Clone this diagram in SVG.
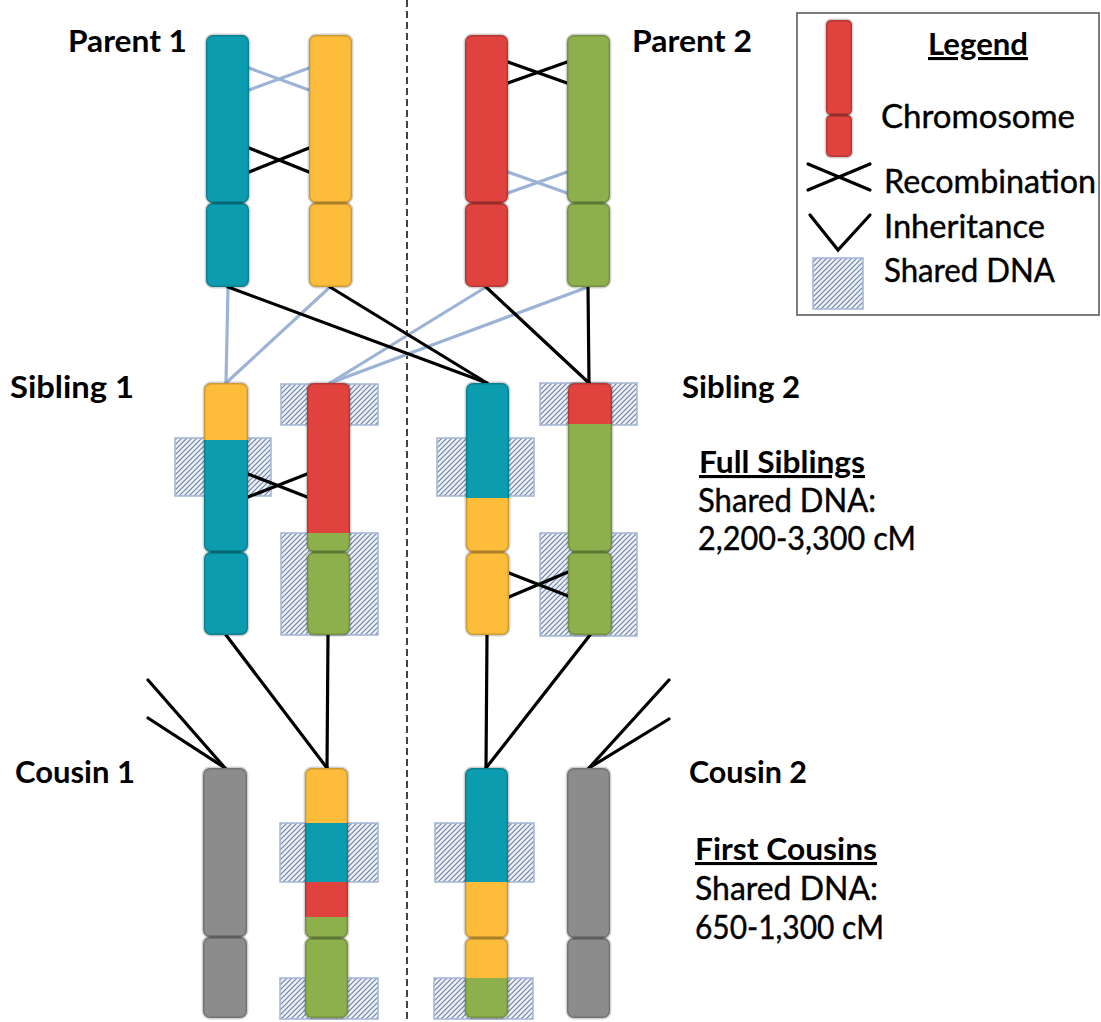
<svg xmlns="http://www.w3.org/2000/svg" width="1101" height="1022" viewBox="0 0 1101 1022">
<style>
.lbl{font-family:Lato,"Liberation Sans",sans-serif;font-weight:700;font-size:31px;fill:#000}
.txt{font-family:Lato,"Liberation Sans",sans-serif;font-weight:400;font-size:32px;fill:#000;stroke:#000;stroke-width:0.4}
.ul{text-decoration:underline}
.blk{stroke:#000;stroke-width:3.2;fill:none;stroke-linecap:round}
.blu{stroke:#9db3d6;stroke-width:3.2;fill:none;stroke-linecap:round}
.out{fill:none;stroke:#000;stroke-opacity:0.18;stroke-width:2.8}
.hatch{fill:url(#hatch);stroke:#a7b8d6;stroke-width:1.6}
.teal{fill:#0b9caf}.yel{fill:#fdbd3b}.red{fill:#e0423e}.grn{fill:#8db04d}.gry{fill:#8c8c8c}
</style>
<defs>
<pattern id="hatch" patternUnits="userSpaceOnUse" width="5" height="5">
<rect width="5" height="5" fill="#eef1f7"/>
<path d="M-1,6 L6,-1 M-1,1 L1,-1 M4,6 L6,4" stroke="#6f84a8" stroke-width="1.2"/>
</pattern>
<clipPath id="cP1a"><rect x="206" y="35" width="43" height="168" rx="7"/><rect x="206" y="203" width="43" height="84" rx="7"/></clipPath>
<clipPath id="cP1b"><rect x="309" y="35" width="43" height="168" rx="7"/><rect x="309" y="203" width="43" height="84" rx="7"/></clipPath>
<clipPath id="cP2a"><rect x="465" y="35" width="43" height="168" rx="7"/><rect x="465" y="203" width="43" height="84" rx="7"/></clipPath>
<clipPath id="cP2b"><rect x="567" y="35" width="43" height="168" rx="7"/><rect x="567" y="203" width="43" height="84" rx="7"/></clipPath>
<clipPath id="cS1a"><rect x="204" y="383" width="44" height="169" rx="7"/><rect x="204" y="552" width="44" height="83" rx="7"/></clipPath>
<clipPath id="cS1b"><rect x="307" y="383" width="43" height="169" rx="7"/><rect x="307" y="552" width="43" height="83" rx="7"/></clipPath>
<clipPath id="cS2a"><rect x="466" y="383" width="43" height="169" rx="7"/><rect x="466" y="552" width="43" height="83" rx="7"/></clipPath>
<clipPath id="cS2b"><rect x="568" y="383" width="44" height="169" rx="7"/><rect x="568" y="552" width="44" height="83" rx="7"/></clipPath>
<clipPath id="cC1b"><rect x="305" y="768" width="43" height="170" rx="7"/><rect x="305" y="938" width="43" height="80" rx="7"/></clipPath>
<clipPath id="cC2a"><rect x="465" y="768" width="43" height="170" rx="7"/><rect x="465" y="938" width="43" height="80" rx="7"/></clipPath>
</defs>
<rect width="1101" height="1022" fill="#fff"/>

<line id="divider" x1="407" y1="0" x2="407" y2="1022" stroke="#222" stroke-width="1.7" stroke-dasharray="7 4"/>

<g id="shared-dna">
<rect class="hatch" x="281" y="384" width="97" height="41"/>
<rect class="hatch" x="175" y="438" width="96" height="58"/>
<rect class="hatch" x="281" y="533" width="97" height="102"/>
<rect class="hatch" x="540" y="383" width="97" height="42"/>
<rect class="hatch" x="437" y="438" width="97" height="58"/>
<rect class="hatch" x="540" y="533" width="97" height="103"/>
<rect class="hatch" x="280" y="823" width="98" height="59"/>
<rect class="hatch" x="280" y="978" width="98" height="41"/>
<rect class="hatch" x="435" y="823" width="99" height="59"/>
<rect class="hatch" x="434" y="978" width="99" height="41"/>
</g>

<g id="connectors">
<line class="blu" x1="249" y1="68" x2="309" y2="90"/><line class="blu" x1="249" y1="90" x2="309" y2="68"/>
<line class="blk" x1="249" y1="148" x2="309" y2="172"/><line class="blk" x1="249" y1="172" x2="309" y2="148"/>
<line class="blk" x1="508" y1="62" x2="567" y2="83"/><line class="blk" x1="508" y1="83" x2="567" y2="62"/>
<line class="blu" x1="508" y1="172" x2="567" y2="193"/><line class="blu" x1="508" y1="193" x2="567" y2="172"/>
<line class="blk" x1="248" y1="474" x2="307" y2="497"/><line class="blk" x1="248" y1="497" x2="307" y2="474"/>
<line class="blk" x1="509" y1="573" x2="568" y2="596"/><line class="blk" x1="509" y1="597" x2="568" y2="572"/>
<line class="blu" x1="228" y1="287" x2="226" y2="383"/>
<line class="blu" x1="330" y1="287" x2="226" y2="383"/>
<line class="blu" x1="486" y1="287" x2="330" y2="383"/>
<line class="blu" x1="588" y1="287" x2="330" y2="383"/>
<line class="blk" x1="228" y1="287" x2="487" y2="383"/>
<line class="blk" x1="330" y1="287" x2="487" y2="383"/>
<line class="blk" x1="486" y1="287" x2="589" y2="383"/>
<line class="blk" x1="588" y1="287" x2="589" y2="383"/>
<line class="blk" x1="226" y1="635" x2="327" y2="768"/>
<line class="blk" x1="328" y1="635" x2="327" y2="768"/>
<line class="blk" x1="487" y1="635" x2="486" y2="768"/>
<line class="blk" x1="590" y1="635" x2="486" y2="768"/>
<line class="blk" x1="148" y1="680" x2="225" y2="768"/>
<line class="blk" x1="148" y1="718" x2="225" y2="768"/>
<line class="blk" x1="669" y1="680" x2="589" y2="768"/>
<line class="blk" x1="669" y1="719" x2="589" y2="768"/>
</g>

<g id="parent1">
<text class="lbl" x="68" y="52" textLength="119" lengthAdjust="spacingAndGlyphs">Parent 1</text>
<g clip-path="url(#cP1a)"><rect class="teal" x="206" y="35" width="43" height="252"/></g>
<rect class="out" x="206" y="35" width="43" height="168" rx="7"/><rect class="out" x="206" y="203" width="43" height="84" rx="7"/>
<g clip-path="url(#cP1b)"><rect class="yel" x="309" y="35" width="43" height="252"/></g>
<rect class="out" x="309" y="35" width="43" height="168" rx="7"/><rect class="out" x="309" y="203" width="43" height="84" rx="7"/>
</g>

<g id="parent2">
<text class="lbl" x="632" y="52" textLength="120" lengthAdjust="spacingAndGlyphs">Parent 2</text>
<g clip-path="url(#cP2a)"><rect class="red" x="465" y="35" width="43" height="252"/></g>
<rect class="out" x="465" y="35" width="43" height="168" rx="7"/><rect class="out" x="465" y="203" width="43" height="84" rx="7"/>
<g clip-path="url(#cP2b)"><rect class="grn" x="567" y="35" width="43" height="252"/></g>
<rect class="out" x="567" y="35" width="43" height="168" rx="7"/><rect class="out" x="567" y="203" width="43" height="84" rx="7"/>
</g>

<g id="sibling1">
<text class="lbl" x="10" y="398" textLength="124" lengthAdjust="spacingAndGlyphs">Sibling 1</text>
<g clip-path="url(#cS1a)"><rect class="yel" x="204" y="383" width="44" height="57"/><rect class="teal" x="204" y="440" width="44" height="195"/></g>
<rect class="out" x="204" y="383" width="44" height="169" rx="7"/><rect class="out" x="204" y="552" width="44" height="83" rx="7"/>
<g clip-path="url(#cS1b)"><rect class="red" x="307" y="383" width="43" height="150"/><rect class="grn" x="307" y="533" width="43" height="102"/></g>
<rect class="out" x="307" y="383" width="43" height="169" rx="7"/><rect class="out" x="307" y="552" width="43" height="83" rx="7"/>
</g>

<g id="sibling2">
<text class="lbl" x="682" y="398" textLength="118" lengthAdjust="spacingAndGlyphs">Sibling 2</text>
<g clip-path="url(#cS2a)"><rect class="teal" x="466" y="383" width="43" height="115"/><rect class="yel" x="466" y="498" width="43" height="137"/></g>
<rect class="out" x="466" y="383" width="43" height="169" rx="7"/><rect class="out" x="466" y="552" width="43" height="83" rx="7"/>
<g clip-path="url(#cS2b)"><rect class="red" x="568" y="383" width="44" height="41"/><rect class="grn" x="568" y="424" width="44" height="211"/></g>
<rect class="out" x="568" y="383" width="44" height="169" rx="7"/><rect class="out" x="568" y="552" width="44" height="83" rx="7"/>
</g>

<g id="full-siblings-note">
<text class="lbl ul" x="699" y="473" textLength="166" lengthAdjust="spacingAndGlyphs">Full Siblings</text>
<text class="txt" x="698" y="512" textLength="178" lengthAdjust="spacingAndGlyphs">Shared DNA:</text>
<text class="txt" x="698" y="550" textLength="218" lengthAdjust="spacingAndGlyphs">2,200-3,300 cM</text>
</g>

<g id="cousin1">
<text class="lbl" x="15" y="783" textLength="120" lengthAdjust="spacingAndGlyphs">Cousin 1</text>
<rect class="gry" x="203" y="768" width="44" height="169" rx="7"/><rect class="gry" x="203" y="937" width="44" height="81" rx="7"/>
<rect class="out" x="203" y="768" width="44" height="169" rx="7"/><rect class="out" x="203" y="937" width="44" height="81" rx="7"/>
<g clip-path="url(#cC1b)"><rect class="yel" x="305" y="768" width="43" height="55"/><rect class="teal" x="305" y="823" width="43" height="59"/><rect class="red" x="305" y="882" width="43" height="35"/><rect class="grn" x="305" y="917" width="43" height="101"/></g>
<rect class="out" x="305" y="768" width="43" height="170" rx="7"/><rect class="out" x="305" y="938" width="43" height="80" rx="7"/>
</g>

<g id="cousin2">
<text class="lbl" x="689" y="783" textLength="118" lengthAdjust="spacingAndGlyphs">Cousin 2</text>
<g clip-path="url(#cC2a)"><rect class="teal" x="465" y="768" width="43" height="114"/><rect class="yel" x="465" y="882" width="43" height="96"/><rect class="grn" x="465" y="978" width="43" height="40"/></g>
<rect class="out" x="465" y="768" width="43" height="170" rx="7"/><rect class="out" x="465" y="938" width="43" height="80" rx="7"/>
<rect class="gry" x="567" y="768" width="43" height="170" rx="7"/><rect class="gry" x="567" y="938" width="43" height="80" rx="7"/>
<rect class="out" x="567" y="768" width="43" height="170" rx="7"/><rect class="out" x="567" y="938" width="43" height="80" rx="7"/>
</g>

<g id="first-cousins-note">
<text class="lbl ul" x="695" y="860" textLength="182" lengthAdjust="spacingAndGlyphs">First Cousins</text>
<text class="txt" x="695" y="900" textLength="183" lengthAdjust="spacingAndGlyphs">Shared DNA:</text>
<text class="txt" x="695" y="939" textLength="189" lengthAdjust="spacingAndGlyphs">650-1,300 cM</text>
</g>

<g id="legend">
<rect x="797" y="13" width="302" height="302" fill="#fff" stroke="#6e6e6e" stroke-width="1.8"/>
<rect class="red" x="826" y="20" width="26" height="95" rx="5"/><rect class="red" x="826" y="115" width="26" height="42" rx="5"/>
<rect class="out" x="826" y="20" width="26" height="95" rx="5"/><rect class="out" x="826" y="115" width="26" height="42" rx="5"/>
<text class="lbl ul" x="928" y="55" textLength="100" lengthAdjust="spacingAndGlyphs">Legend</text>
<text class="txt" x="881" y="128" textLength="194" lengthAdjust="spacingAndGlyphs">Chromosome</text>
<line class="blk" x1="808" y1="164" x2="870" y2="190"/><line class="blk" x1="808" y1="190" x2="870" y2="164"/>
<text class="txt" x="884" y="193" textLength="212" lengthAdjust="spacingAndGlyphs">Recombination</text>
<path class="blk" d="M810,215 L838,250 L870,215"/>
<text class="txt" x="884" y="238" textLength="161" lengthAdjust="spacingAndGlyphs">Inheritance</text>
<rect class="hatch" x="813" y="258" width="50" height="51"/>
<text class="txt" x="884" y="282" textLength="171" lengthAdjust="spacingAndGlyphs">Shared DNA</text>
</g>
</svg>
